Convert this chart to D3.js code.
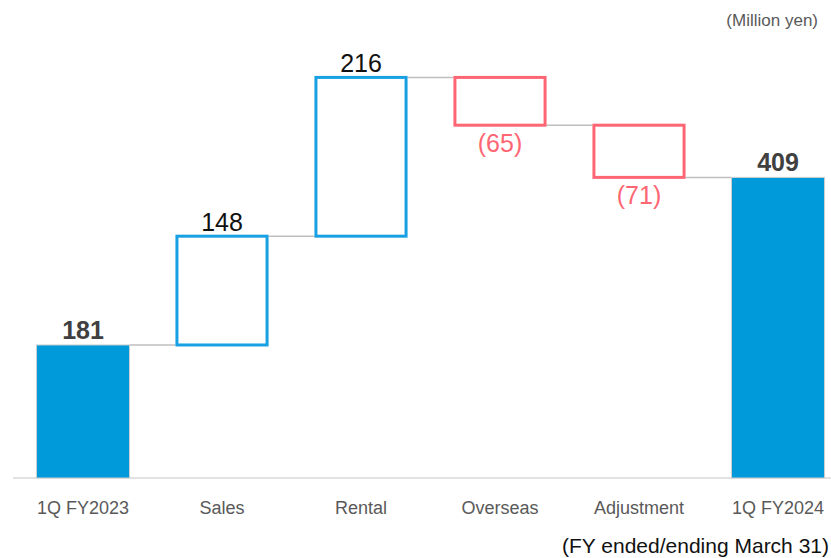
<!DOCTYPE html>
<html>
<head>
<meta charset="utf-8">
<script src="https://cdn.jsdelivr.net/npm/d3@7"></script>
<style>
  body { margin: 0; background: #fff; }
  svg text { font-family: "Liberation Sans", Arial, sans-serif; }
</style>
</head>
<body>
<div class="canvas"></div>
<script>
// chart data
var categories = ['1Q FY2023', 'Sales', 'Rental', 'Overseas', 'Adjustment', '1Q FY2024'];
var changes = [181, 148, 216, -65, -71, 409];
var kinds = ['total', 'step', 'step', 'step', 'step', 'total'];
var valueLabels = ['181', '148', '216', '(65)', '(71)', '409'];

var pageWidth = 831, pageHeight = 558;
var baseY = 478;

var svg = d3.select('.canvas')
    .append('svg')
    .attr('width', pageWidth)
    .attr('height', pageHeight);

// build the start/end of each bar
var bars = [];
var running = 0;
for (var i = 0; i < categories.length; i++) {
    var start, end;
    if (kinds[i] === 'total') {
        start = 0; end = changes[i]; running = changes[i];
    } else {
        start = running; end = running + changes[i]; running = end;
    }
    bars.push({cat: categories[i], kind: kinds[i], start: start, end: end, delta: changes[i], label: valueLabels[i]});
}

var x = d3.scaleBand()
    .domain(categories)
    .range([13.5, 847.5])
    .paddingInner(0.33)
    .paddingOuter(0.165);

var y = d3.scaleLinear()
    .domain([0, 600])
    .range([baseY, baseY - 600 * 0.735]);

// axis line
svg.append('line')
    .attr('x1', 13).attr('x2', 831)
    .attr('y1', baseY).attr('y2', baseY)
    .attr('stroke', '#d9d9d9')
    .attr('stroke-width', 1.5);

// connectors
for (var j = 0; j < bars.length - 1; j++) {
    var lvl = bars[j].end;
    svg.append('line')
        .attr('x1', x(bars[j].cat) + x.bandwidth())
        .attr('x2', x(bars[j + 1].cat))
        .attr('y1', y(lvl)).attr('y2', y(lvl))
        .attr('stroke', '#bfbfbf')
        .attr('stroke-width', 1.5);
}

// bars
bars.forEach(function(d) {
    var top = y(Math.max(d.start, d.end)),
        bot = y(Math.min(d.start, d.end));
    if (d.kind === 'total') {
        svg.append('rect')
            .attr('x', x(d.cat))
            .attr('y', top)
            .attr('width', x.bandwidth())
            .attr('height', bot - top)
            .attr('fill', '#009ada')
            .attr('stroke', '#d0d0d0')
            .attr('stroke-width', 1);
    } else {
        svg.append('rect')
            .attr('x', x(d.cat) + 1.5)
            .attr('y', top)
            .attr('width', x.bandwidth() - 3)
            .attr('height', bot - top)
            .attr('fill', 'none')
            .attr('stroke', d.delta >= 0 ? '#17a1e3' : '#ff6673')
            .attr('stroke-width', 3);
    }
});

// value labels
bars.forEach(function(d) {
    var cx = x(d.cat) + x.bandwidth() / 2;
    var t = svg.append('text')
        .attr('x', cx)
        .attr('text-anchor', 'middle')
        .style('font-size', '25px')
        .text(d.label);
    if (d.kind === 'total') {
        t.attr('y', y(d.end) - 6).attr('fill', '#404040').style('font-weight', 'bold');
    } else if (d.delta >= 0) {
        t.attr('y', y(d.end) - 5).attr('fill', '#111');
    } else {
        t.attr('y', y(d.end) + 27).attr('fill', '#ff6673');
    }
});

// category labels
svg.selectAll('.cat-label')
    .data(categories)
    .enter()
    .append('text')
    .attr('class', 'cat-label')
    .attr('x', function(d) { return x(d) + x.bandwidth() / 2; })
    .attr('y', 514)
    .attr('text-anchor', 'middle')
    .attr('fill', '#595959')
    .style('font-size', '18px')
    .text(function(d) { return d; });

svg.append('text')
    .attr('x', 818).attr('y', 26)
    .attr('text-anchor', 'end')
    .attr('fill', '#595959')
    .style('font-size', '17px')
    .text('(Million yen)');

svg.append('text')
    .attr('x', 829).attr('y', 553)
    .attr('text-anchor', 'end')
    .attr('fill', '#111')
    .style('font-size', '21px')
    .text('(FY ended/ending March 31)');
</script>
</body>
</html>
